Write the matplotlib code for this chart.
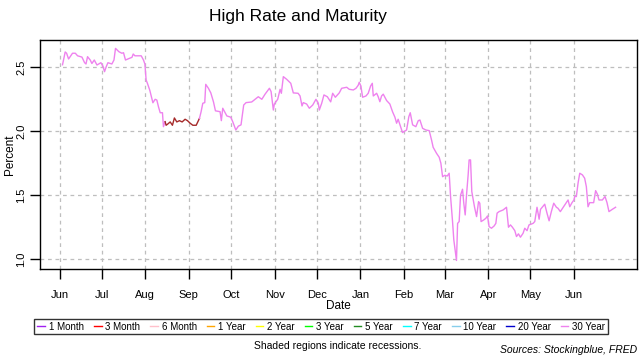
import numpy as np
import matplotlib
matplotlib.use("Agg")
import matplotlib.pyplot as plt
from matplotlib.lines import Line2D

plt.rcParams['font.family'] = ['Liberation Sans', 'DejaVu Sans']

start = np.datetime64('2019-06-01')

# 30 Year series (days since 2019-06-01, percent)
days_30 = [2.1, 4.0, 5.0, 6.4, 9.2, 11.2, 12.8, 15.9, 17.8, 18.8, 19.9, 21.8, 23.0, 24.7,
           26.6, 29.4, 30.8, 32.0, 33.2, 34.4, 37.2, 38.7, 39.8, 42.2, 44.3, 45.5, 46.9,
           49.0, 51.5, 52.4, 53.6, 55.0, 58.1, 59.7, 60.7, 61.6, 62.5, 64.2, 66.4, 68.0,
           69.2, 70.4, 71.6, 73.2, 73.9, 75.1]
rate_30 = [2.52, 2.62, 2.61, 2.565, 2.61, 2.61, 2.59, 2.58, 2.536, 2.526, 2.583, 2.557, 2.53, 2.557,
           2.518, 2.536, 2.51, 2.466, 2.505, 2.536, 2.526, 2.557, 2.648, 2.622, 2.61, 2.614, 2.557,
           2.567, 2.578, 2.604, 2.59, 2.59, 2.59, 2.557, 2.526, 2.40, 2.375, 2.32, 2.223, 2.25,
           2.244, 2.19, 2.145, 2.145, 2.036, 2.075]

# segment where another maturity was highest
days_hi = [75.1, 75.8, 77.0, 78.7, 80.3, 81.7, 83.4, 85.3, 87.2, 89.3, 91.0, 92.9, 94.8, 97.2, 99.5]
rate_hi = [2.075, 2.047, 2.057, 2.073, 2.047, 2.104, 2.073, 2.083, 2.073, 2.094, 2.083, 2.063,
           2.047, 2.047, 2.10]

days_30b = [99.5, 100.7, 101.9, 103.3, 104.0, 105.9, 107.6, 109.5, 110.9, 114.2, 115.1, 116.1,
            119.0, 121.8, 123.2, 125.4, 127.2, 129.1, 131.0, 132.7, 136.7, 139.1, 141.4, 143.9,
            146.2, 149.3, 150.5, 152.1, 152.8, 155.2, 156.9, 157.8, 159.2, 161.6, 164.5, 166.3,
            169.7, 171.1, 172.5, 173.4, 175.8, 177.7, 180.1, 182.4, 184.1, 184.8, 186.5, 188.1,
            190.5, 192.9, 194.3, 196.2, 199.0, 200.7, 204.3, 206.1, 209.0, 210.9, 212.5, 213.2,
            214.4, 215.6, 218.0, 219.6, 221.3, 222.5, 223.2, 225.6, 226.7, 227.9, 229.1, 230.3,
            232.7, 235.0, 236.9, 238.6, 239.8, 240.9, 242.6, 244.0, 246.9, 248.5, 249.5, 251.2,
            253.5, 255.2, 256.4, 258.3, 260.6, 263.0, 264.7, 265.8, 268.2, 270.1, 271.3, 272.5,
            274.1, 275.8, 277.2, 278.2, 279.6, 280.5, 281.4, 282.4, 283.2, 284.3, 285.3, 286.7,
            287.6, 288.6, 289.6, 290.7, 291.4, 292.4, 293.3, 295.2, 296.7, 298.1, 299.0, 299.9,
            301.8, 303.3, 304.5, 305.6, 307.3, 309.2, 310.4, 311.3, 312.7, 315.6, 318.0, 319.4,
            320.8, 322.2, 323.9, 325.1, 326.5, 327.9, 329.8, 331.0, 332.6, 334.0, 336.9, 338.1,
            339.7, 341.2, 342.2, 345.2, 346.8, 348.3, 349.9, 351.6, 353.5, 354.6, 356.3, 360.6,
            361.8, 363.0, 364.6, 366.0, 366.5, 367.7, 368.9, 370.1, 372.0, 373.6, 374.8, 376.0,
            377.2, 380.0, 381.4, 382.6, 383.8, 386.2, 388.1, 389.5, 390.9, 393.3, 395.6]
rate_30b = [2.10, 2.153, 2.219, 2.224, 2.367, 2.336, 2.30, 2.23, 2.16, 2.153, 2.083, 2.18,
            2.12, 2.11, 2.075, 2.01, 2.04, 2.05, 2.205, 2.224, 2.229, 2.25, 2.27, 2.25,
            2.29, 2.336, 2.31, 2.166, 2.213, 2.25, 2.328, 2.297, 2.427, 2.406, 2.375, 2.30,
            2.297, 2.276, 2.198, 2.224, 2.213, 2.18, 2.205, 2.25, 2.219, 2.166, 2.219, 2.284,
            2.27, 2.23, 2.297, 2.266, 2.30, 2.336, 2.344, 2.328, 2.323, 2.336, 2.36, 2.383,
            2.354, 2.266, 2.276, 2.297, 2.354, 2.375, 2.276, 2.297, 2.27, 2.231, 2.276, 2.29,
            2.24, 2.213, 2.153, 2.11, 2.063, 2.094, 2.036, 1.99, 2.01, 2.114, 2.145, 2.05,
            2.036, 2.083, 2.088, 2.023, 2.01, 2.005, 1.93, 1.875, 1.828, 1.797, 1.75, 1.645,
            1.656, 1.65, 1.672, 1.49, 1.294, 1.151, 1.073, 0.99, 1.28, 1.294, 1.50, 1.547,
            1.4375, 1.346, 1.51, 1.659, 1.776, 1.776, 1.528, 1.41, 1.333, 1.45, 1.4375, 1.294,
            1.307, 1.32, 1.338, 1.255, 1.242, 1.26, 1.28, 1.36, 1.372, 1.385, 1.406, 1.25,
            1.268, 1.25, 1.223, 1.177, 1.198, 1.172, 1.203, 1.242, 1.223, 1.268, 1.28, 1.294,
            1.406, 1.3125, 1.39, 1.43, 1.36, 1.30, 1.372, 1.4375, 1.406, 1.398, 1.372, 1.442,
            1.463, 1.41, 1.442, 1.463, 1.49, 1.49, 1.594, 1.672, 1.659, 1.633, 1.567, 1.41,
            1.442, 1.442, 1.536, 1.51, 1.463, 1.463, 1.49, 1.442, 1.372, 1.39, 1.406]

maturities = ['1 Month', '3 Month', '6 Month', '1 Year', '2 Year', '3 Year', '5 Year',
              '7 Year', '10 Year', '20 Year', '30 Year']
colors = ['#a020f0', '#ff0000', '#ffc0cb', '#ffa500', '#ffff00', '#00ff00', '#228b22',
          '#00ffff', '#87ceeb', '#0000cd', '#ee82ee']
month_labels = ['Jun', 'Jul', 'Aug', 'Sep', 'Oct', 'Nov', 'Dec', 'Jan', 'Feb', 'Mar',
                'Apr', 'May', 'Jun']


def to_dates(d):
    return start + (np.array(d) * 24 * 3600).astype('timedelta64[s]')


fig = plt.figure(figsize=(6.4, 3.6), dpi=100)
ax = fig.add_axes([0.063, 0.253, 0.932, 0.635])

ax.plot(to_dates(days_30), rate_30, color='#ee82ee', lw=1)
ax.plot(to_dates(days_hi), rate_hi, color='#a52a2a', lw=1)
ax.plot(to_dates(days_30b), rate_30b, color='#ee82ee', lw=1)

ax.set_xlim(to_dates([-13.7])[0], to_dates([410.7])[0])
ax.set_ylim(0.924, 2.711)

ticks = np.arange(np.datetime64('2019-06'), np.datetime64('2020-07'), np.timedelta64(1, 'M'))
ax.set_xticks(ticks.astype('datetime64[D]'))
ax.set_xticklabels(month_labels)
ax.set_yticks([1.0, 1.5, 2.0, 2.5])
ax.set_yticklabels(['1.0', '1.5', '2.0', '2.5'], rotation=90, va='center')

ax.tick_params(direction='out', length=7, width=1, labelsize=8)
ax.tick_params(axis='x', pad=8)
ax.tick_params(axis='y', pad=3)
ax.grid(True, color='#bebebe', linestyle=(0, (3, 3)), lw=0.9)
for s in ax.spines.values():
    s.set_linewidth(1)

ax.set_xlabel('Date', fontsize=8.5, labelpad=0)
ax.set_ylabel('Percent', fontsize=8.5)
ax.yaxis.set_label_coords(-0.041, 0.5)

fig.text(0.466, 0.955, 'High Rate and Maturity', ha='center', va='center', fontsize=12.5)

handles = [Line2D([], [], color=c, lw=1) for c in colors]
leg = fig.legend(handles, maturities, loc='center', bbox_to_anchor=(0.502, 0.093), ncol=11,
                 fontsize=7, handlelength=0.8, handletextpad=0.4, columnspacing=1.0,
                 frameon=True, fancybox=False, borderpad=0.3, borderaxespad=0)
leg.get_frame().set_edgecolor('black')
leg.get_frame().set_linewidth(1)

fig.text(0.528, 0.039, 'Shaded regions indicate recessions.', ha='center', va='center', fontsize=7.5)
fig.text(0.995, 0.028, 'Sources: Stockingblue, FRED', ha='right', va='center', fontsize=7.5,
         style='italic')

fig.savefig('out.png', dpi=100)
